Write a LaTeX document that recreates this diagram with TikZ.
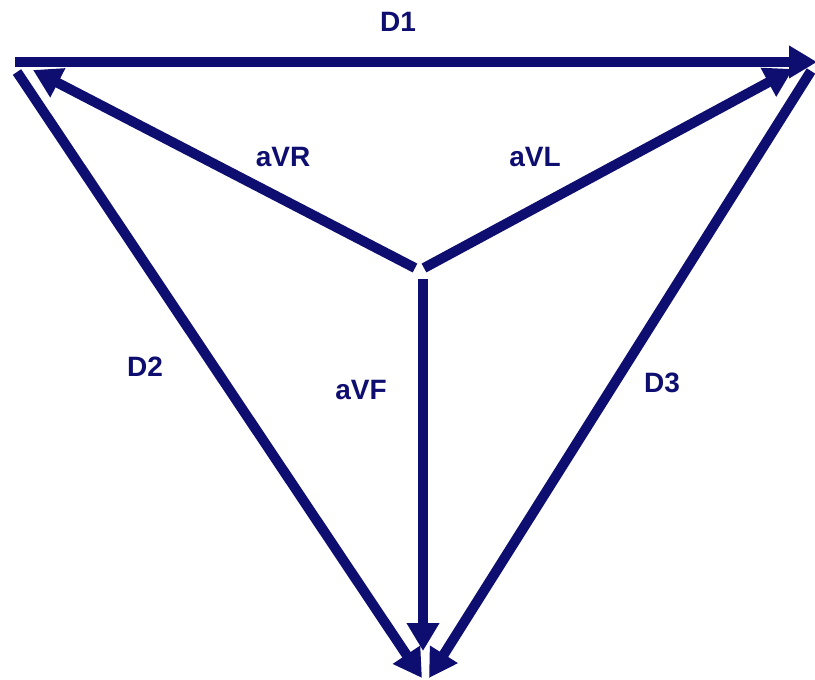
\documentclass[tikz,border=0pt]{standalone}
\usepackage{fontspec}
\setmainfont{Liberation Sans}
\usetikzlibrary{arrows.meta}
\definecolor{leadblue}{RGB}{14,14,112}
\begin{document}
\begin{tikzpicture}[x=1pt,y=-1pt,
  lead/.style={draw=leadblue,line width=10pt,
    -{Triangle[length=28pt,width=31pt]}},
  lbl/.style={text=leadblue,font=\bfseries\fontsize{28}{30}\selectfont,inner sep=0pt}]
\useasboundingbox (0,0) rectangle (815,680);
% end points of the limb leads
\coordinate (d1s) at (15,62);   \coordinate (d1e) at (817,62);
\coordinate (d2s) at (17,72);   \coordinate (d2e) at (422,678);
\coordinate (d3s) at (811,71);  \coordinate (d3e) at (429,678);
% augmented leads from the central terminal
\coordinate (rs) at (415,268);  \coordinate (re) at (33,70);
\coordinate (ls) at (424,268);  \coordinate (le) at (793,69);
\coordinate (fs) at (423,279);  \coordinate (fe) at (423,651);
\draw[lead] (d1s) -- (d1e);
\draw[lead] (d2s) -- (d2e);
\draw[lead] (d3s) -- (d3e);
\draw[lead] (rs) -- (re);
\draw[lead] (ls) -- (le);
\draw[lead] (fs) -- (fe);
\node[lbl] (tD1) at (398,22) {D1};
\node[lbl] (taVR) at (283,157) {aVR};
\node[lbl] (taVL) at (535,157) {aVL};
\node[lbl] (tD2) at (145,367) {D2};
\node[lbl] (taVF) at (361,390) {aVF};
\node[lbl] (tD3) at (662,383) {D3};
\end{tikzpicture}
\end{document}
